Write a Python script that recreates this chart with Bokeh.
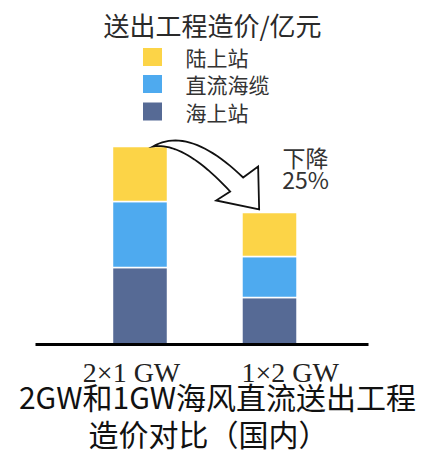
from bokeh.plotting import figure
from bokeh.models import Range1d, ColumnDataSource
from bokeh.core.properties import value
from bokeh.embed import file_html
from bokeh.resources import INLINE

# ---- data (亿元) ----
categories = ["2×1 GW", "1×2 GW"]
segments = ["海上站", "直流海缆", "陆上站"]
offshore_station = [38.5, 23.5]
dc_cable = [33.0, 20.5]
onshore_station = [27.5, 22.0]
colors = ["#566a95", "#4eaaef", "#fcd447"]
chart_title = "送出工程造价/亿元"
caption_lines = ["2GW和1GW海风直流送出工程", "造价对比（国内）"]
decline_note = ["下降", "25%"]

CJK = value("Noto Sans CJK SC")

# ---- canvas geometry ----
W, H = 433, 456
X0_PX, STEP_PX = 139.5, 129.5   # first bar centre and bar spacing in pixels
BASE_PX, UNIT_PX = 344.0, 2.0    # baseline row and pixels per value unit


def px_x(px):
    return (px - X0_PX) / STEP_PX


def px_y(py):
    return (BASE_PX - py) / UNIT_PX


p = figure(width=W, height=H, output_backend="svg", toolbar_location=None,
           x_range=Range1d(px_x(0), px_x(W)), y_range=Range1d(px_y(H), px_y(0)),
           min_border=0, outline_line_color=None)
p.axis.visible = False
p.grid.visible = False
p.background_fill_color = "white"
p.border_fill_color = "white"

xs = list(range(len(categories)))
source = ColumnDataSource(dict(x=xs, 海上站=offshore_station, 直流海缆=dc_cable,
                               陆上站=onshore_station))
p.vbar_stack(segments, x="x", width=0.425, color=colors, source=source,
             line_color="white", line_width=1.5)

# baseline
p.segment(x0=[px_x(35)], y0=[0], x1=[px_x(368)], y1=[0], line_color="black",
          line_width=3)

# ---- curved hollow arrow from the first bar top to the second ----
totals = [a + b + c for a, b, c in zip(offshore_station, dc_cable, onshore_station)]


def to_px(x, y):
    return X0_PX + x * STEP_PX, BASE_PX - y * UNIT_PX


tail = to_px(xs[0] + 0.1, totals[0])
tip = to_px(xs[1] - 0.08, totals[1] + 1.5)


def bezier(p0, c, p2, n=24):
    pts = []
    for i in range(n + 1):
        t = i / n
        pts.append(((1 - t) ** 2 * p0[0] + 2 * t * (1 - t) * c[0] + t * t * p2[0],
                    (1 - t) ** 2 * p0[1] + 2 * t * (1 - t) * c[1] + t * t * p2[1]))
    return pts


upper_end = (tip[0] - 16, tip[1] - 32)
lower_end = (tip[0] - 29, tip[1] - 18)
barb_up = (tip[0] - 1, tip[1] - 43)
barb_low = (tip[0] - 43, tip[1] - 9)
upper = bezier(tail, (tail[0] + 36, tail[1] - 21), upper_end)
lower = bezier(tail, (tail[0] + 31, tail[1] - 5), lower_end)
outline = upper + [barb_up, tip, barb_low] + lower[::-1]
p.patch([px_x(a) for a, _ in outline], [px_y(b) for _, b in outline],
        fill_color="white", line_color="#111111", line_width=1.8,
        line_join="miter")

# ---- title and legend ----
p.text(x=[px_x(212)], y=[px_y(24)], text=[chart_title], text_font=CJK,
       text_font_size="26px", text_color="#2a2a2a", text_align="center",
       text_baseline="middle")

legend_rows = [56.5, 83.5, 111.0]
legend_order = [2, 1, 0]
p.rect(x=[px_x(152)] * 3, y=[px_y(r) for r in legend_rows], width=19, height=18,
       width_units="screen", height_units="screen",
       fill_color=[colors[i] for i in legend_order], line_color=None)
p.text(x=[px_x(185)] * 3, y=[px_y(r) for r in legend_rows],
       text=[segments[i] for i in legend_order], text_font=CJK,
       text_font_size="21px", text_color="#333333", text_align="left",
       text_baseline="middle")

# ---- decline note ----
p.text(x=[px_x(305)] * 2, y=[px_y(156), px_y(178)], text=decline_note,
       text_font=CJK, text_font_size="23px", text_color="#333333",
       text_align="center", text_baseline="middle")

# ---- category labels ----
label_shift = [-0.065, 0.16]
p.text(x=[i + s for i, s in zip(xs, label_shift)], y=[px_y(372)] * 2,
       text=categories, text_font=value("Liberation Serif"),
       text_font_size="28px", text_color="#222222", text_align="center",
       text_baseline="middle")

# ---- caption ----
p.text(x=[px_x(217), px_x(208)], y=[px_y(395), px_y(432)], text=caption_lines,
       text_font=CJK, text_font_size="30px", text_color="#111111",
       text_align="center", text_baseline="middle")

open("out.html", "w").write(file_html(p, INLINE))
